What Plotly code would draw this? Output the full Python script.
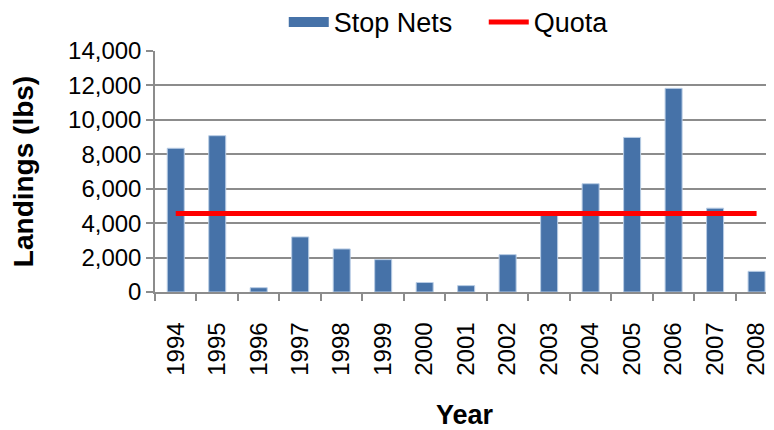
import plotly.graph_objects as go

# data
years = ["1994", "1995", "1996", "1997", "1998", "1999", "2000", "2001",
         "2002", "2003", "2004", "2005", "2006", "2007", "2008"]
stop_nets = [8350, 9080, 250, 3200, 2500, 1880, 550, 370,
             2170, 4500, 6290, 8980, 11830, 4870, 1200]
quota = [4560] * len(years)

FONT = "Arial, Liberation Sans, sans-serif"
BLUE = "#4672A8"
RED = "#FF0000"
GRID = "#8C8C8C"

fig = go.Figure()

fig.add_trace(go.Bar(
    x=years, y=stop_nets, name="Stop Nets",
    marker=dict(color=BLUE, line=dict(color="#B9CDE5", width=1)),
    width=0.41, showlegend=False,
))
# legend proxy so the key is a wide block like the original
fig.add_trace(go.Scatter(
    x=[None], y=[None], mode="lines", name="Stop Nets",
    line=dict(color=BLUE, width=14),
))
fig.add_trace(go.Scatter(
    x=years, y=quota, mode="lines", name="Quota",
    line=dict(color=RED, width=5),
))

# page body has an 8px margin, so the figure is 8px smaller than the window
fig.update_layout(
    width=766, height=422,
    margin=dict(l=147, r=0, t=43, b=138),
    paper_bgcolor="white", plot_bgcolor="white",
    font=dict(family=FONT, size=24, color="black"),
    showlegend=True,
    legend=dict(orientation="h", xref="container", x=0.36, xanchor="left",
                yref="container", y=0.966, yanchor="middle",
                font=dict(size=27), itemwidth=40, entrywidth=145,
                traceorder="normal", bgcolor="rgba(0,0,0,0)"),
)

fig.update_xaxes(
    type="category", range=[-0.5, 14.42], tickangle=-90, tickson="boundaries",
    ticks="outside", ticklen=7, tickcolor=GRID, tickwidth=1.5,
    showline=True, linecolor=GRID, linewidth=1.5,
    showgrid=False, tickfont=dict(size=24), ticklabelstandoff=19,
    automargin=False,
    title=dict(text="<b>Year</b>", font=dict(size=27), standoff=31),
)
fig.update_yaxes(
    range=[0, 14000], dtick=2000, tickformat=",",
    ticks="outside", ticklen=7, tickcolor=GRID, tickwidth=1.5,
    showline=True, linecolor=GRID, linewidth=1.5,
    showgrid=True, gridcolor=GRID, gridwidth=1.5,
    zeroline=False, tickfont=dict(size=24), automargin=False,
    title=dict(text="<b>Landings (lbs)</b>", font=dict(size=28), standoff=38),
)

fig.write_html("out.html")
